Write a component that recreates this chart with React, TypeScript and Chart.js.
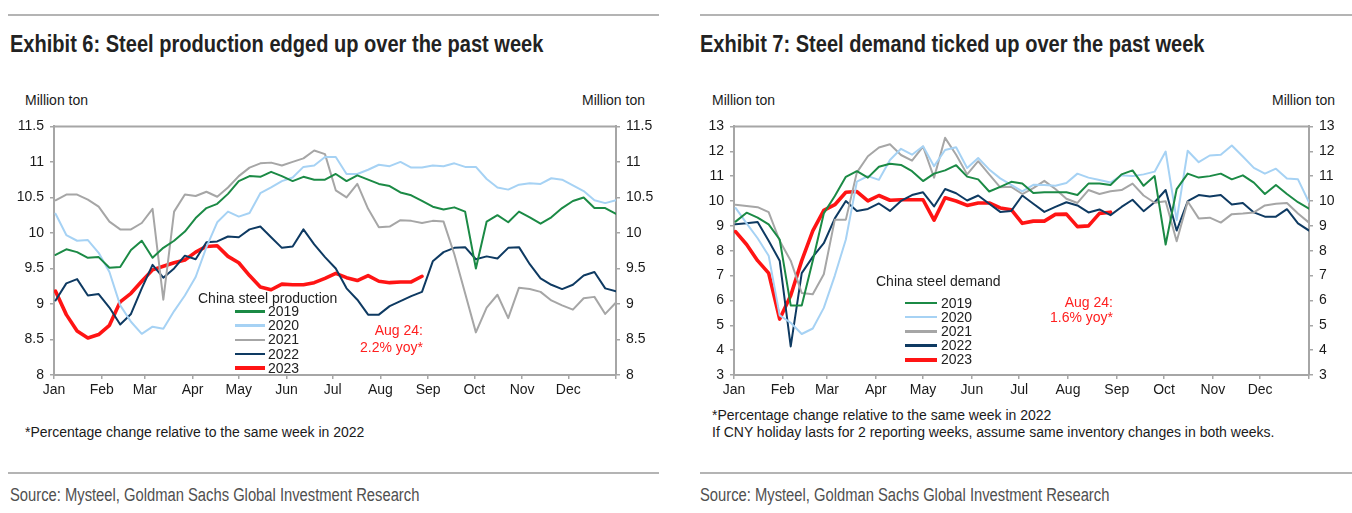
import React, { useEffect, useRef } from "react";
import { Chart, registerables } from "chart.js";

Chart.register(...registerables);

// ---------- data ----------
const MONTHS = ["Jan", "Feb", "Mar", "Apr", "May", "Jun", "Jul", "Aug", "Sep", "Oct", "Nov", "Dec"];
const MONTH_START_DAYS = [0, 31, 59, 90, 120, 151, 181, 212, 243, 273, 304, 334, 365];
const FIRST_WEEK_DAY = 1;
const DAYS_PER_WEEK = 7;

const YEARS = ["2019", "2020", "2021", "2022", "2023"];

// Exhibit 6: weekly steel production (million ton)
const PROD_2019 = [9.69, 9.77, 9.73, 9.65, 9.66, 9.51, 9.52, 9.76, 9.89, 9.65, 9.79, 9.89, 10.02, 10.21, 10.35, 10.41, 10.55, 10.73, 10.8, 10.79, 10.86, 10.8, 10.73, 10.79, 10.75, 10.75, 10.83, 10.73, 10.81, 10.75, 10.69, 10.66, 10.57, 10.53, 10.45, 10.37, 10.33, 10.36, 10.3, 9.5, 10.16, 10.25, 10.15, 10.3, 10.22, 10.13, 10.22, 10.35, 10.45, 10.5, 10.35, 10.35, 10.27];
const PROD_2020 = [10.27, 9.97, 9.89, 9.9, 9.72, 9.45, 8.98, 8.75, 8.58, 8.68, 8.65, 8.9, 9.12, 9.38, 9.8, 10.15, 10.3, 10.23, 10.28, 10.56, 10.64, 10.73, 10.78, 10.93, 10.95, 11.07, 11.07, 10.83, 10.83, 10.89, 10.96, 10.94, 11.0, 10.92, 10.92, 10.95, 10.94, 10.98, 10.93, 10.93, 10.76, 10.64, 10.61, 10.68, 10.7, 10.69, 10.77, 10.75, 10.67, 10.59, 10.46, 10.42, 10.46];
const PROD_2021 = [10.46, 10.54, 10.54, 10.47, 10.37, 10.16, 10.05, 10.05, 10.14, 10.34, 9.06, 10.3, 10.54, 10.52, 10.58, 10.51, 10.64, 10.8, 10.92, 10.98, 10.99, 10.95, 11.0, 11.05, 11.16, 11.11, 10.6, 10.5, 10.69, 10.34, 10.08, 10.09, 10.18, 10.17, 10.14, 10.17, 10.16, 9.7, 9.15, 8.6, 8.95, 9.13, 8.8, 9.23, 9.21, 9.17, 9.05, 8.98, 8.92, 9.08, 9.1, 8.86, 9.02];
const PROD_2022 = [9.05, 9.29, 9.35, 9.12, 9.14, 8.95, 8.71, 8.86, 9.22, 9.55, 9.37, 9.5, 9.68, 9.63, 9.87, 9.88, 9.95, 9.94, 10.05, 10.09, 9.94, 9.79, 9.81, 10.05, 9.84, 9.66, 9.5, 9.22, 9.06, 8.85, 8.85, 8.97, 9.04, 9.11, 9.17, 9.6, 9.73, 9.79, 9.8, 9.63, 9.67, 9.64, 9.79, 9.8, 9.56, 9.36, 9.27, 9.21, 9.27, 9.4, 9.45, 9.22, 9.18];
const PROD_2023 = [9.18, 8.85, 8.62, 8.52, 8.57, 8.7, 9.03, 9.15, 9.32, 9.48, 9.53, 9.58, 9.62, 9.73, 9.81, 9.82, 9.67, 9.58, 9.4, 9.24, 9.2, 9.28, 9.27, 9.27, 9.3, 9.36, 9.43, 9.37, 9.33, 9.4, 9.32, 9.3, 9.31, 9.31, 9.39];

// Exhibit 7: weekly steel demand (million ton)
const DEM_2019 = [9.17, 9.53, 9.33, 9.06, 8.45, 5.8, 5.8, 7.6, 9.5, 10.2, 10.97, 11.2, 10.94, 11.38, 11.5, 11.45, 11.2, 10.8, 11.1, 11.23, 11.44, 10.98, 10.87, 10.38, 10.57, 10.77, 10.7, 10.32, 10.35, 10.35, 10.35, 10.24, 10.7, 10.7, 10.64, 11.07, 11.23, 10.61, 11.0, 8.25, 10.48, 11.1, 10.94, 11.0, 11.1, 10.87, 11.03, 10.74, 10.28, 10.64, 10.28, 9.95, 9.69];
const DEM_2020 = [9.72, 9.1, 8.5, 7.8, 5.4, 5.1, 4.65, 4.87, 5.7, 7.0, 8.45, 10.78, 11.0, 10.85, 11.65, 12.1, 11.86, 12.2, 11.4, 12.05, 12.16, 11.33, 11.73, 11.27, 10.91, 10.65, 10.39, 10.65, 10.64, 10.61, 10.72, 11.1, 10.94, 10.84, 10.74, 11.03, 11.0, 11.07, 11.18, 11.99, 9.23, 12.02, 11.56, 11.83, 11.86, 12.23, 11.79, 11.33, 11.1, 11.3, 10.9, 10.87, 9.95];
const DEM_2021 = [9.85, 9.8, 9.75, 9.55, 8.4, 7.6, 6.3, 6.25, 7.05, 9.25, 9.25, 11.15, 11.8, 12.15, 12.28, 11.85, 11.62, 12.19, 10.94, 12.54, 11.86, 11.07, 11.6, 11.07, 10.55, 10.57, 10.28, 10.52, 10.81, 10.48, 10.09, 9.92, 10.44, 10.28, 10.39, 10.44, 10.7, 10.22, 9.93, 9.99, 8.38, 9.98, 9.3, 9.33, 9.13, 9.47, 9.5, 9.54, 9.82, 9.89, 9.92, 9.5, 9.13];
const DEM_2022 = [9.06, 9.1, 9.15, 8.4, 7.6, 4.15, 7.1, 7.75, 8.3, 9.3, 10.0, 9.6, 9.68, 9.9, 9.6, 10.0, 10.24, 10.35, 9.78, 10.48, 10.31, 10.02, 10.22, 9.89, 9.56, 9.6, 10.22, 9.89, 9.56, 9.76, 9.95, 9.82, 9.54, 9.66, 9.43, 9.76, 10.05, 9.59, 9.95, 10.44, 8.81, 9.99, 10.24, 10.18, 10.24, 9.86, 9.92, 9.54, 9.37, 9.37, 9.67, 9.1, 8.81];
const DEM_2023 = [8.77, 8.25, 7.6, 7.1, 5.25, 6.2, 7.6, 8.8, 9.62, 9.85, 10.35, 10.38, 10.0, 10.22, 10.03, 10.05, 10.05, 10.05, 9.23, 10.13, 10.0, 9.82, 9.92, 9.92, 9.72, 9.65, 9.1, 9.19, 9.19, 9.46, 9.47, 8.97, 9.0, 9.5, 9.55];

// ---------- styles ----------
const COLORS = ["#1b8a45", "#a6d2f4", "#a6a6a6", "#0e3a62", "#ff1414"];
const WIDTHS = [2, 2, 2, 2, 3.6];
const AXIS = "#a6a6a6";
const SANS = "'Liberation Sans', Arial, sans-serif";
const TEXT = "#1a1a1a";
const RED_TEXT = "#ff2020";

type Cfg = {
  series: number[][];
  yMin: number;
  yMax: number;
  yStep: number;
  left: number;
  top: number;
  width: number;
  height: number;
  axisLeftW: number;
  axisRightW: number;
  padTop: number;
  xAxisH: number;
};

const frameTop = {
  id: "frameTop",
  beforeDatasetsDraw(chart: any) {
    const { ctx, chartArea: a } = chart;
    ctx.save();
    ctx.strokeStyle = AXIS;
    ctx.lineWidth = 2;
    ctx.beginPath();
    ctx.moveTo(a.left, a.top);
    ctx.lineTo(a.right, a.top);
    ctx.stroke();
    ctx.restore();
  },
};

function LineChart(p: Cfg) {
  const ref = useRef<HTMLCanvasElement>(null);
  useEffect(() => {
    const tickFont = { family: SANS, size: 14 };
    const yAxis = (position: "left" | "right", w: number) => ({
      position,
      min: p.yMin,
      max: p.yMax,
      display: true,
      ticks: {
        stepSize: p.yStep,
        font: tickFont,
        color: TEXT,
        padding: 6,
        callback: (v: any) => String(Number(v)),
      },
      grid: { drawOnChartArea: false, drawTicks: true, tickLength: 4, color: AXIS, lineWidth: 1.5 },
      border: { display: true, color: AXIS, width: 2 },
      afterFit: (s: any) => {
        s.width = w;
      },
    });
    const chart = new Chart(ref.current as HTMLCanvasElement, {
      type: "line",
      data: {
        datasets: p.series.map((vals, k) => ({
          label: YEARS[k],
          data: vals.map((v, i) => ({ x: FIRST_WEEK_DAY + DAYS_PER_WEEK * i, y: v })),
          borderColor: COLORS[k],
          backgroundColor: COLORS[k],
          borderWidth: WIDTHS[k],
          pointRadius: 0,
          tension: 0,
          fill: false,
          yAxisID: "y",
          borderJoinStyle: "round" as const,
          borderCapStyle: "round" as const,
        })),
      },
      options: {
        animation: false,
        responsive: false,
        maintainAspectRatio: false,
        events: [],
        layout: { padding: { top: p.padTop, left: 0, right: 0, bottom: 0 } },
        plugins: { legend: { display: false }, tooltip: { enabled: false }, title: { display: false } },
        scales: {
          x: {
            type: "linear",
            min: 0,
            max: 365,
            afterBuildTicks: (s: any) => {
              s.ticks = MONTH_START_DAYS.map((v) => ({ value: v }));
            },
            ticks: {
              autoSkip: false,
              maxRotation: 0,
              font: tickFont,
              color: TEXT,
              padding: 3,
              callback: (_v: any, i: number) => MONTHS[i] ?? "",
            },
            grid: { drawOnChartArea: false, drawTicks: true, tickLength: 4, color: AXIS, lineWidth: 1.5 },
            border: { display: true, color: AXIS, width: 2 },
            afterFit: (s: any) => {
              s.height = p.xAxisH;
            },
          },
          y: yAxis("left", p.axisLeftW),
          y2: yAxis("right", p.axisRightW),
        },
      } as any,
      plugins: [frameTop],
    });
    return () => chart.destroy();
  }, []);
  return (
    <canvas
      ref={ref}
      width={p.width}
      height={p.height}
      style={{ position: "absolute", left: p.left, top: p.top, width: p.width, height: p.height }}
    />
  );
}

function Txt(props: {
  x: number;
  cy: number;
  text: string;
  size: number;
  color?: string;
  weight?: string | number;
  align?: "left" | "right";
  squeeze?: number;
}) {
  const lh = Math.round(props.size * 1.2);
  const style: React.CSSProperties = {
    position: "absolute",
    top: props.cy - lh / 2,
    fontSize: props.size,
    lineHeight: `${lh}px`,
    fontFamily: SANS,
    color: props.color ?? TEXT,
    fontWeight: props.weight ?? "normal",
    whiteSpace: "nowrap",
  };
  if (props.squeeze) {
    style.transform = `scaleX(${props.squeeze})`;
    style.transformOrigin = props.align === "right" ? "right center" : "left center";
  }
  if (props.align === "right") style.right = 1352 - props.x;
  else style.left = props.x;
  return <div style={style}>{props.text}</div>;
}

function Rule(props: { x1: number; x2: number; y: number }) {
  return (
    <div
      style={{
        position: "absolute",
        left: props.x1,
        top: props.y - 1,
        width: props.x2 - props.x1,
        height: 2,
        background: "#b4b4b4",
      }}
    />
  );
}

function Legend(props: { title: string; titleX: number; titleCy: number; lx1: number; lx2: number; tx: number; rowCy: number; rowGap: number }) {
  return (
    <>
      <Txt x={props.titleX} cy={props.titleCy} text={props.title} size={14} color="#222" />
      {YEARS.map((y, k) => {
        const cy = props.rowCy + k * props.rowGap;
        const w = WIDTHS[k] + 0.6;
        return (
          <React.Fragment key={y}>
            <div
              style={{
                position: "absolute",
                left: props.lx1,
                top: cy - w / 2,
                width: props.lx2 - props.lx1,
                height: w,
                background: COLORS[k],
              }}
            />
            <Txt x={props.tx} cy={cy} text={y} size={14} color="#222" />
          </React.Fragment>
        );
      })}
    </>
  );
}

export default function App() {
  return (
    <div
      style={{
        position: "absolute",
        left: 0,
        top: 0,
        width: 1352,
        height: 513,
        background: "#fff",
        overflow: "hidden",
      }}
    >
      {/* ---- left panel ---- */}
      <Rule x1={8} x2={659} y={15} />
      <Txt x={10} cy={43} text="Exhibit 6: Steel production edged up over the past week" size={24} weight="bold" color="#222" squeeze={0.835} />
      <Txt x={25} cy={100} text="Million ton" size={14} />
      <Txt x={645} cy={100} text="Million ton" size={14} align="right" />
      <LineChart
        series={[PROD_2019, PROD_2020, PROD_2021, PROD_2022, PROD_2023]}
        yMin={8}
        yMax={11.5}
        yStep={0.5}
        left={0}
        top={112}
        width={676}
        height={290}
        axisLeftW={54}
        axisRightW={60}
        padTop={9}
        xAxisH={27}
      />
      <Legend title="China steel production" titleX={198} titleCy={298} lx1={235} lx2={265} tx={268} rowCy={311.5} rowGap={14.2} />
      <Txt x={423} cy={330} text="Aug 24:" size={14} color={RED_TEXT} align="right" />
      <Txt x={423} cy={347} text="2.2% yoy*" size={14} color={RED_TEXT} align="right" />
      <Txt x={25} cy={432} text="*Percentage change relative to the same week in 2022" size={14} />
      <Rule x1={8} x2={659} y={473} />
      <Txt x={10} cy={495} text="Source: Mysteel, Goldman Sachs Global Investment Research" size={18} color="#505050" squeeze={0.82} />

      {/* ---- right panel ---- */}
      <Rule x1={700} x2={1352} y={15} />
      <Txt x={700} cy={43} text="Exhibit 7: Steel demand ticked up over the past week" size={24} weight="bold" color="#222" squeeze={0.835} />
      <Txt x={712} cy={100} text="Million ton" size={14} />
      <Txt x={1335} cy={100} text="Million ton" size={14} align="right" />
      <LineChart
        series={[DEM_2019, DEM_2020, DEM_2021, DEM_2022, DEM_2023]}
        yMin={3}
        yMax={13}
        yStep={1}
        left={680}
        top={112}
        width={672}
        height={290}
        axisLeftW={54}
        axisRightW={43}
        padTop={9}
        xAxisH={27}
      />
      <Legend title="China steel demand" titleX={876} titleCy={281} lx1={905} lx2={937} tx={941} rowCy={303} rowGap={14.15} />
      <Txt x={1113} cy={302} text="Aug 24:" size={14} color={RED_TEXT} align="right" />
      <Txt x={1113} cy={317.5} text="1.6% yoy*" size={14} color={RED_TEXT} align="right" />
      <Txt x={712} cy={415} text="*Percentage change relative to the same week in 2022" size={14} />
      <Txt x={712} cy={432} text="If CNY holiday lasts for 2 reporting weeks, assume same inventory changes in both weeks." size={14} />
      <Rule x1={700} x2={1352} y={473} />
      <Txt x={700} cy={495} text="Source: Mysteel, Goldman Sachs Global Investment Research" size={18} color="#505050" squeeze={0.82} />
    </div>
  );
}
